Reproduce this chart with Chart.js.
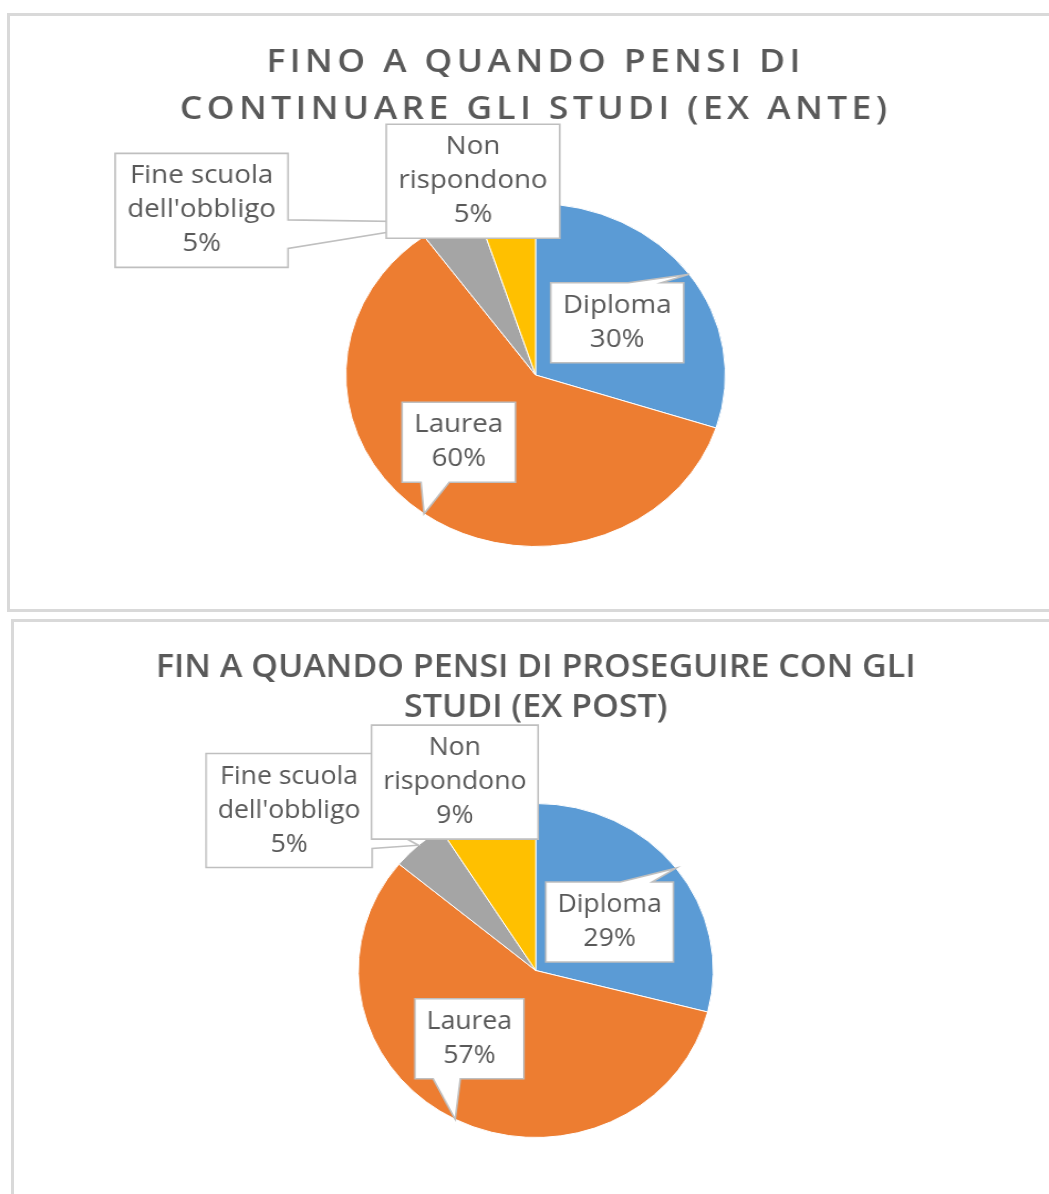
<!DOCTYPE html>
<html lang="it">
<head>
<meta charset="utf-8">
<title>Fino a quando pensi di continuare gli studi</title>
<script src="https://cdn.jsdelivr.net/npm/chart.js@4.4.1/dist/chart.umd.min.js"></script>
<style>
    html, body { margin: 0; padding: 0; background: #fff; overflow: hidden; width: 1049px; height: 1194px; }
    .frame { position: absolute; border: 3px solid #d9d9d9; box-sizing: border-box; background: #fff; }
    #frame-ante { left: 7px; top: 13px; width: 1100px; height: 599px; }
    #frame-post { left: 11px; top: 619px; width: 1100px; height: 620px; }
    canvas { position: absolute; }
    #chart-ante { left: 10px; top: 16px; }
    #chart-post { left: 14px; top: 622px; }
</style>
</head>
<body>
<div class="frame" id="frame-ante"></div>
<div class="frame" id="frame-post"></div>
<!-- the source screenshot is stretched sideways, so the canvases are stretched too (inline size kept by Chart.js) -->
<canvas id="chart-ante" width="939" height="593" style="width:1039px;height:593px"></canvas>
<canvas id="chart-post" width="974" height="572" style="width:1035px;height:572px"></canvas>

<script>
/* =========================================
   1. Data
   ========================================= */
const categories = ['Diploma', 'Laurea', "Fine scuola dell'obbligo", 'Non rispondono'];
const exAnteValues = [30, 60, 5, 5];   // %
const exPostValues = [29, 57, 5, 9];   // %
const exAnteTitle = ['FINO A QUANDO PENSI DI', 'CONTINUARE GLI STUDI (EX ANTE)'];
const exPostTitle = ['FIN A QUANDO PENSI DI PROSEGUIRE CON GLI', 'STUDI (EX POST)'];

const sliceColors = ['#5B9BD5', '#ED7D31', '#A5A5A5', '#FFC000'];
const TEXT_GREY = '#595959';

/* =========================================
   2. Helpers
   ========================================= */
function wrapText(ctx, text, maxWidth) {
    const words = text.split(' ');
    const lines = [];
    let line = '';
    words.forEach(w => {
        const test = line ? line + ' ' + w : w;
        if (line && ctx.measureText(test).width > maxWidth) {
            lines.push(line);
            line = w;
        } else {
            line = test;
        }
    });
    if (line) lines.push(line);
    return lines;
}

// Office "wedgeRectCallout" outline: rectangle with a wedge pointing at (tx, ty)
function drawCallout(ctx, l, t, w, h, tx, ty) {
    const hc = l + w / 2, vc = t + h / 2;
    const dx = tx - hc, dy = ty - vc;
    const inside = Math.abs(dx) <= w / 2 && Math.abs(dy) <= h / 2;
    const dq = dx * h / w;
    const vertical = Math.abs(dy) - Math.abs(dq) > 0;
    const x1 = l + w * (dx > 0 ? 7 : 2) / 12, x2 = l + w * (dx > 0 ? 10 : 5) / 12;
    const y1 = t + h * (dy > 0 ? 7 : 2) / 12, y2 = t + h * (dy > 0 ? 10 : 5) / 12;

    ctx.beginPath();
    ctx.moveTo(l, t);
    if (!inside && vertical && dy < 0) { ctx.lineTo(x1, t); ctx.lineTo(tx, ty); ctx.lineTo(x2, t); }
    ctx.lineTo(l + w, t);
    if (!inside && !vertical && dx > 0) { ctx.lineTo(l + w, y1); ctx.lineTo(tx, ty); ctx.lineTo(l + w, y2); }
    ctx.lineTo(l + w, t + h);
    if (!inside && vertical && dy > 0) { ctx.lineTo(x2, t + h); ctx.lineTo(tx, ty); ctx.lineTo(x1, t + h); }
    ctx.lineTo(l, t + h);
    if (!inside && !vertical && dx < 0) { ctx.lineTo(l, y2); ctx.lineTo(tx, ty); ctx.lineTo(l, y1); }
    ctx.closePath();
    ctx.fillStyle = '#ffffff';
    ctx.fill();
    ctx.stroke();
}

/* =========================================
   3. Plugins
   ========================================= */
// callout data labels: "Name / xx%" in white boxes pointing at the middle of each arc
const calloutPlugin = {
    id: 'callouts',
    afterDatasetsDraw: function(chart, args, opts) {
        const ctx = chart.ctx;
        const meta = chart.getDatasetMeta(0);
        const values = chart.data.datasets[0].data;
        const total = values.reduce((a, b) => a + b, 0);

        ctx.save();
        ctx.font = `${opts.fontSize}px "Open Sans", "Noto Sans", sans-serif`;
        ctx.lineWidth = 1.6;
        ctx.strokeStyle = '#bfbfbf';
        ctx.lineJoin = 'miter';

        meta.data.forEach((arc, i) => {
            const p = arc.getProps(['x', 'y', 'startAngle', 'endAngle', 'outerRadius'], true);
            const mid = (p.startAngle + p.endAngle) / 2;
            const tipX = p.x + Math.cos(mid) * p.outerRadius;
            const tipY = p.y + Math.sin(mid) * p.outerRadius;

            const pct = Math.round(values[i] / total * 100) + '%';
            const lines = wrapText(ctx, chart.data.labels[i], opts.maxWidth).concat(pct);
            const w = Math.max(...lines.map(s => ctx.measureText(s).width)) + opts.padX * 2;
            const h = lines.length * opts.lineHeight + opts.padY * 2;

            const pos = opts.positions[i];
            const cx = p.x + pos[0] * p.outerRadius;
            const cy = p.y + pos[1] * p.outerRadius;

            drawCallout(ctx, cx - w / 2, cy - h / 2, w, h, tipX, tipY);

            ctx.fillStyle = TEXT_GREY;
            ctx.textAlign = 'center';
            ctx.textBaseline = 'middle';
            lines.forEach((s, j) => {
                ctx.fillText(s, cx, cy - h / 2 + opts.padY + opts.lineHeight * (j + 0.5));
            });
        });
        ctx.restore();
    }
};

// spaced-out title letters (only where asked)
const titleSpacingPlugin = {
    id: 'titleSpacing',
    beforeDraw: function(chart, args, opts) {
        chart.ctx.letterSpacing = (opts.spacing || 0) + 'px';
    },
    beforeDatasetsDraw: function(chart) {
        chart.ctx.letterSpacing = '0px';
    }
};

/* =========================================
   4. Charts
   ========================================= */
function buildPie(canvasId, values, titleLines, t) {
    return new Chart(document.getElementById(canvasId), {
        type: 'pie',
        data: {
            labels: categories,
            datasets: [{
                data: values,
                backgroundColor: sliceColors,
                borderColor: '#ffffff',
                borderWidth: 1,
                hoverOffset: 0
            }]
        },
        plugins: [titleSpacingPlugin, calloutPlugin],
        options: {
            responsive: false,
            animation: false,
            devicePixelRatio: 1,
            layout: { padding: t.padding },
            plugins: {
                legend: { display: false },
                tooltip: { enabled: false },
                title: {
                    display: true,
                    text: titleLines,
                    color: TEXT_GREY,
                    font: { family: '"Open Sans", "Noto Sans", sans-serif', size: t.titleSize, weight: '600', lineHeight: t.titleLine },
                    padding: t.titlePad
                },
                titleSpacing: { spacing: t.spacing },
                callouts: {
                    fontSize: 25,
                    lineHeight: 34,
                    padX: 11,
                    padY: 6,
                    maxWidth: 150,
                    positions: t.positions
                }
            }
        }
    });
}

buildPie('chart-ante', exAnteValues, exAnteTitle, {
    padding: { left: 11, right: 0, top: 0, bottom: 62 },
    titleSize: 32,
    titleLine: 47 / 32,
    titlePad: { top: 23.5, bottom: 69.5 },
    spacing: 4,
    positions: [[0.43, -0.305], [-0.405, 0.392], [-1.76, -0.96], [-0.33, -1.13]]
});

buildPie('chart-post', exPostValues, exPostTitle, {
    padding: { left: 8, right: 0, top: 0, bottom: 56 },
    titleSize: 32,
    titleLine: 40 / 32,
    titlePad: { top: 26, bottom: 75 },
    spacing: 0,
    positions: [[0.416, -0.29], [-0.374, 0.409], [-1.39, -0.958], [-0.456, -1.128]]
});
</script>
</body>
</html>
